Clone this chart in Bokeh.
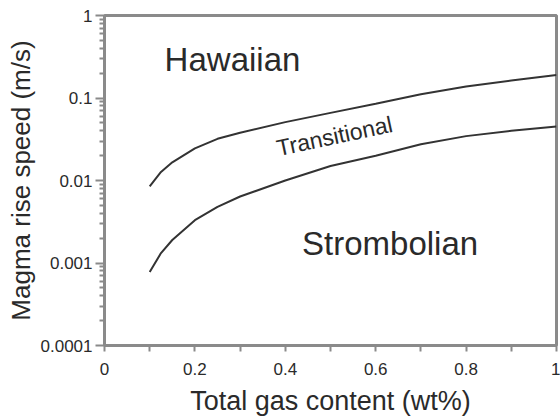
from bokeh.plotting import figure
from bokeh.models import Range1d, FixedTicker, CustomJSTickFormatter, Label
from bokeh.embed import file_html
from bokeh.resources import INLINE

# Data
gas_content = [0.1, 0.125, 0.15, 0.2, 0.25, 0.3, 0.4, 0.5, 0.6, 0.7, 0.8, 0.9, 1.0]
hawaiian_boundary = [0.0085, 0.0127, 0.0166, 0.0245, 0.032, 0.038, 0.051, 0.066, 0.085, 0.111, 0.138, 0.163, 0.19]
strombolian_boundary = [0.00078, 0.00132, 0.0019, 0.0033, 0.0048, 0.0064, 0.0100, 0.0150, 0.020, 0.0275, 0.0345, 0.040, 0.045]

x_ticks = [0, 0.2, 0.4, 0.6, 0.8, 1]
x_minor = [0.1, 0.3, 0.5, 0.7, 0.9]
y_ticks = [0.0001, 0.001, 0.01, 0.1, 1]
y_minor = [m * d for d in [0.0001, 0.001, 0.01, 0.1] for m in range(2, 10)]

regions = ["Hawaiian", "Transitional", "Strombolian"]
region_x = [0.133, 0.381, 0.437]
region_y = [0.296, 0.0245, 0.00174]

FONT = "Liberation Sans"
AXIS_COLOR = "#8a8a8a"
TEXT_COLOR = "#2a2a2a"

p = figure(width=560, height=418, output_backend="svg", toolbar_location=None,
           y_axis_type="log", x_range=Range1d(0, 1), y_range=Range1d(0.0001, 1),
           min_border_left=104, min_border_right=4, min_border_top=15, min_border_bottom=71)
p.xgrid.visible = False
p.ygrid.visible = False
p.outline_line_color = AXIS_COLOR
p.outline_line_width = 3
p.background_fill_color = "white"
p.border_fill_color = "white"

for x_vals, y_vals in [(gas_content, hawaiian_boundary), (gas_content, strombolian_boundary)]:
    p.line(x_vals, y_vals, line_color="#333333", line_width=2)

fmt = CustomJSTickFormatter(code="return tick.toString()")

xa = p.xaxis[0]
xa.ticker = FixedTicker(ticks=x_ticks, minor_ticks=x_minor)
xa.formatter = fmt
xa.axis_label = "Total gas content (wt%)"

ya = p.yaxis[0]
ya.ticker = FixedTicker(ticks=y_ticks, minor_ticks=y_minor)
ya.formatter = fmt
ya.axis_label = "Magma rise speed (m/s)"

for ax in (xa, ya):
    ax.axis_line_color = AXIS_COLOR
    ax.axis_line_width = 3
    ax.major_tick_line_color = AXIS_COLOR
    ax.minor_tick_line_color = AXIS_COLOR
    ax.major_tick_line_width = 2
    ax.minor_tick_line_width = 2
    ax.major_tick_in = 0
    ax.minor_tick_in = 0
    ax.major_label_text_font = FONT
    ax.major_label_text_font_size = "17px"
    ax.major_label_text_color = TEXT_COLOR
    ax.axis_label_text_font = FONT
    ax.axis_label_text_font_style = "normal"
    ax.axis_label_text_color = TEXT_COLOR

xa.major_tick_out = 6
xa.minor_tick_out = 6
xa.major_label_standoff = 11
xa.axis_label_text_font_size = "27px"
xa.axis_label_standoff = 8
ya.major_tick_out = 9
ya.minor_tick_out = 5
ya.major_label_standoff = 3
ya.axis_label_text_font_size = "26px"
ya.axis_label_standoff = 2

sizes = ["33px", "23px", "33px"]
angles = [0, 0.21, 0]
for name, xv, yv, sz, ang in zip(regions, region_x, region_y, sizes, angles):
    p.add_layout(Label(x=xv, y=yv, text=name, text_font=FONT, text_font_size=sz,
                       text_color=TEXT_COLOR, angle=ang, text_baseline="alphabetic"))

open("out.html", "w").write(file_html(p, INLINE))
